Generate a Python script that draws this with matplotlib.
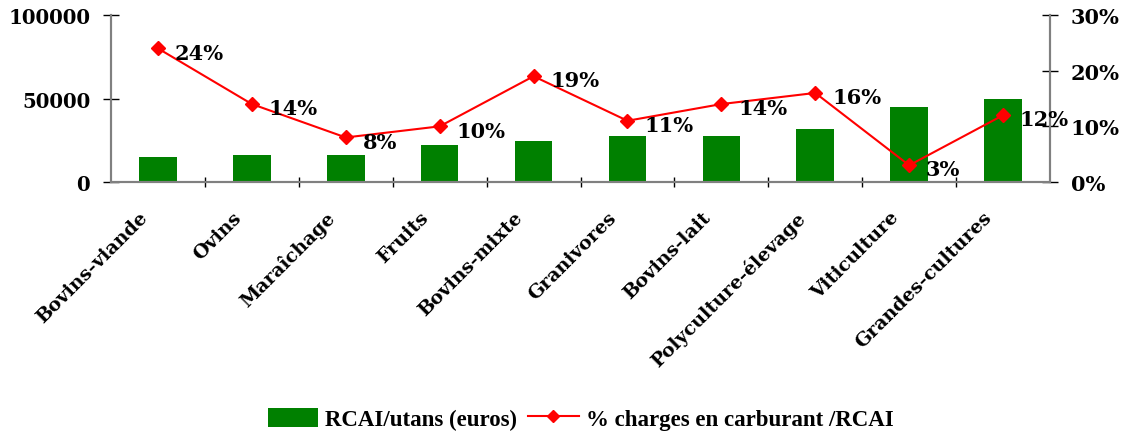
import matplotlib
matplotlib.use("Agg")
import matplotlib.pyplot as plt
import matplotlib.transforms as mtransforms
from matplotlib.lines import Line2D
from matplotlib.patches import Patch

categories = ["Bovins-viande", "Ovins", "Maraîchage", "Fruits", "Bovins-mixte",
              "Granivores", "Bovins-lait", "Polyculture-élevage", "Viticulture",
              "Grandes-cultures"]
rcai_utans = [15000, 16200, 16200, 22300, 24500, 27700, 27700, 31700, 44900, 49700]
fuel_share = [24, 14, 8, 10, 19, 11, 14, 16, 3, 12]

green = "#008000"
red = "#ff0000"
grey = "#808080"
font = {"family": "DejaVu Serif", "weight": "bold"}

fig = plt.figure(figsize=(11.27, 4.35), dpi=100)
ax = fig.add_axes([0.0985, 0.5793, 0.8332, 0.3839])
x = list(range(len(categories)))

ax.bar(x, rcai_utans, width=0.4, color=green, zorder=2)
ax.set_xlim(-0.5, len(categories) - 0.5)
ax.set_ylim(0, 100000)
ax.set_yticks([0, 50000, 100000])
ax.set_yticklabels(["0", "50000", "100000"], fontsize=14.2, **font)

# category names, rotated under each bar
ax.set_xticks([i + 0.5 for i in x[:-1]])
ax.set_xticklabels([])
ax.tick_params(axis="x", length=7, direction="inout", color="black", width=1)
label_tf = ax.get_xaxis_transform() + mtransforms.ScaledTranslation(
    -20 / 100, -26 / 100, fig.dpi_scale_trans)
for xi, name in zip(x, categories):
    ax.text(xi, 0, name, transform=label_tf, rotation=45, ha="right", va="top",
            rotation_mode="anchor", fontsize=13.7, clip_on=False, **font)

ax.tick_params(axis="y", length=12, direction="inout", color="black", width=1, pad=9)
ax.spines["top"].set_visible(False)
for side in ("left", "right", "bottom"):
    ax.spines[side].set_color(grey)
    ax.spines[side].set_linewidth(1.5)

ax2 = ax.twinx()
ax2.plot(x, fuel_share, color=red, lw=1.5, marker="D", markersize=7.5, zorder=3)
ax2.set_ylim(0, 30)
ax2.set_yticks([0, 10, 20, 30])
ax2.set_yticklabels([f"{v}%" for v in [0, 10, 20, 30]], fontsize=15, **font)
ax2.tick_params(axis="y", length=12, direction="inout", color="black", width=1, pad=9)
ax2.spines["top"].set_visible(False)
for side in ("left", "right", "bottom"):
    ax2.spines[side].set_color(grey)
    ax2.spines[side].set_linewidth(1.5)

for xi, v in zip(x, fuel_share):
    ax2.annotate(f"{v}%", (xi, v), xytext=(12, -3), textcoords="offset points",
                 ha="left", va="center", fontsize=15, **font)

handles = [Patch(facecolor=green, edgecolor="none"),
           Line2D([0], [0], color=red, lw=1.5, marker="D", markersize=6)]
labels = ["RCAI/utans (euros)", "% charges en carburant /RCAI"]
fig.legend(handles, labels, loc="center", bbox_to_anchor=(0.515, 0.035), ncol=2,
           frameon=False, prop={"family": "Liberation Serif", "weight": "bold", "size": 16.5},
           handlelength=2.2, handleheight=0.9, handletextpad=0.3, columnspacing=0.5)

fig.savefig("out.png", dpi=100)
